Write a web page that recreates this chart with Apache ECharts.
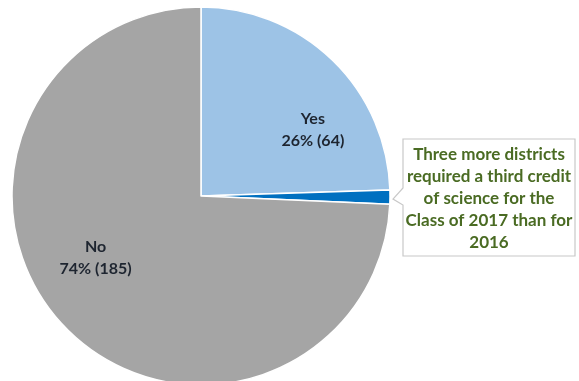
<!DOCTYPE html>
<html lang="en">
<head>
    <meta charset="UTF-8">
    <title>Third credit of science</title>
    <script src="https://cdn.jsdelivr.net/npm/echarts@6/dist/echarts.min.js"></script>
    <style>
        html, body {
            margin: 0;
            height: 100%;
            background: #fff;
        }
    </style>
</head>
<body>
<div id="main" style="width: 579px;height: 381px"></div>
</body>
</html>
<script>

    // slices, clockwise from 12 o'clock
    var sliceNames = ['Yes', 'Yes (added for 2017)', 'No'];
    var sliceValues = [61, 3, 185];
    var sliceColors = ['#9dc3e6', '#0070c0', '#a5a5a5'];
    // label groups: Yes = first two slices
    var labelNames = ['Yes', '', 'No'];
    var labelTotals = [64, 0, 185];
    // label nudges from the default inner position
    var labelShift = [[44, 4], [0, 0], [-35, -6]];

    var calloutLines = ['Three more districts', 'required a third credit', 'of science for the',
        'Class of 2017 than for', '2016'];

    var total = sliceValues.reduce(function (a, b) { return a + b; }, 0);

    var data = sliceNames.map(function (n, i) {
        return {
            name: n,
            value: sliceValues[i],
            itemStyle: {color: sliceColors[i]},
            label: {show: labelNames[i] !== ''}
        };
    });

    var myChart = echarts.init(document.getElementById('main'));

    var option = {
        animation: false,
        series: [
            {
                type: 'pie',
                center: [201, 196],
                radius: 189,
                startAngle: 90,
                clockwise: true,
                data: data,
                itemStyle: {
                    borderColor: '#fff',
                    borderWidth: 1.5
                },
                label: {
                    position: 'inner',
                    color: '#1e2530',
                    fontFamily: 'Lato',
                    fontWeight: 'bold',
                    fontSize: 16,
                    lineHeight: 22,
                    formatter: function (p) {
                        var i = p.dataIndex;
                        var pct = Math.round(labelTotals[i] / total * 100);
                        return labelNames[i] + '\n' + pct + '% (' + labelTotals[i] + ')';
                    }
                },
                labelLayout: function (p) {
                    return {dx: labelShift[p.dataIndex][0], dy: labelShift[p.dataIndex][1]};
                },
                emphasis: {disabled: true}
            }
        ],
        graphic: [
            {
                type: 'polygon',
                shape: {
                    points: [[403, 139], [575, 139], [575, 256], [403, 256],
                        [403, 205], [393, 199], [403, 188]]
                },
                style: {fill: '#fff', stroke: '#c8c8c8', lineWidth: 1.2}
            },
            {
                type: 'text',
                x: 489,
                y: 144,
                style: {
                    text: calloutLines.join('\n'),
                    fill: '#4a6b23',
                    font: 'bold 17px Lato',
                    lineHeight: 22,
                    align: 'center',
                    verticalAlign: 'top'
                }
            }
        ]
    };

    myChart.setOption(option);

</script>
